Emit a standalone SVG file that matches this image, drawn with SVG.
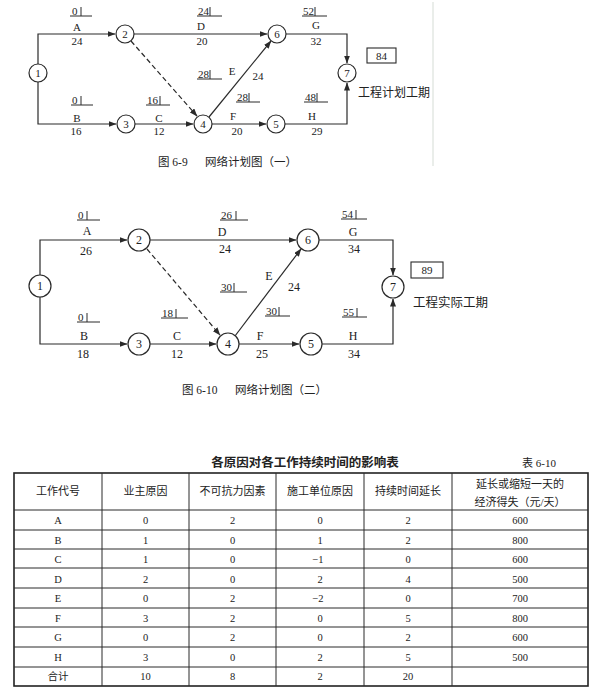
<svg xmlns="http://www.w3.org/2000/svg" width="598" height="693" viewBox="0 0 598 693">
<style>
.bg{fill:#ffffff}
.ln{fill:none;stroke:#2a2a2a;stroke-width:1.2}
.dash{fill:none;stroke:#2a2a2a;stroke-width:1.2;stroke-dasharray:5,3}
.nd{fill:#ffffff;stroke:#2a2a2a;stroke-width:1.2}
.t{font-family:"Liberation Serif","Times New Roman",serif;fill:#222;text-anchor:middle}
.s1{font-size:11px}
.s2{font-size:12px}
.lt{font-family:"Liberation Serif","Times New Roman",serif;fill:#222;font-size:11px}
.cn{font-family:"Liberation Serif","Noto Sans CJK SC",sans-serif;fill:#222}
.mk{fill:none;stroke:#2a2a2a;stroke-width:1}
.tb{fill:none;stroke:#2a2a2a;stroke-width:1}
.tbo{fill:none;stroke:#222;stroke-width:1.6}
.tc{font-family:"Liberation Serif","Noto Sans CJK SC",serif;fill:#222;font-size:10.5px;text-anchor:middle}
.th{font-family:"Liberation Serif","Noto Sans CJK SC",serif;fill:#222;font-size:11px;text-anchor:middle}
</style>
<defs>
<marker id="ar" markerWidth="8" markerHeight="6" refX="7.5" refY="3" orient="auto" markerUnits="userSpaceOnUse">
<path d="M0,0 L8,3 L0,6 Z" fill="#2a2a2a"/>
</marker>
</defs>
<rect class="bg" x="0" y="0" width="598" height="693"/>
<line x1="433" y1="2" x2="433" y2="166" stroke="#d5dcd5" stroke-width="1"/>

<!-- Diagram 1 connectors -->
<g id="connectors1">
<path class="ln" d="M38,64 V34 H115" marker-end="url(#ar)"/>
<path class="ln" d="M38,82 V124 H116" marker-end="url(#ar)"/>
<path class="ln" d="M134,34 H267" marker-end="url(#ar)"/>
<path class="dash" d="M131,41 L197,116" marker-end="url(#ar)"/>
<path class="ln" d="M135,124 H193" marker-end="url(#ar)"/>
<path class="ln" d="M209,117 L271,41" marker-end="url(#ar)"/>
<path class="ln" d="M212,124 H266" marker-end="url(#ar)"/>
<path class="ln" d="M286,34 H347 V63" marker-end="url(#ar)"/>
<path class="ln" d="M285,124 H347 V83" marker-end="url(#ar)"/>
</g>
<g id="d1-n1"><circle class="nd" cx="38" cy="73" r="9"/><text class="t s1" x="38" y="77">1</text></g>
<g id="d1-n2"><circle class="nd" cx="125" cy="34" r="9"/><text class="t s1" x="125" y="38">2</text></g>
<g id="d1-n3"><circle class="nd" cx="126" cy="124" r="9"/><text class="t s1" x="126" y="128">3</text></g>
<g id="d1-n4"><circle class="nd" cx="203" cy="124" r="9"/><text class="t s1" x="203" y="128">4</text></g>
<g id="d1-n5"><circle class="nd" cx="276" cy="124" r="9"/><text class="t s1" x="276" y="128">5</text></g>
<g id="d1-n6"><circle class="nd" cx="277" cy="34" r="9"/><text class="t s1" x="277" y="38">6</text></g>
<g id="d1-n7"><circle class="nd" cx="347" cy="73" r="9"/><text class="t s1" x="347" y="77">7</text></g>

<g id="d1-labels">
<text class="lt" x="72" y="15">0</text><path class="mk" d="M81,7 V16 M70,16 H92"/>
<text class="t s1" x="77" y="31">A</text><text class="t s1" x="77" y="45">24</text>
<text class="lt" x="72" y="104">0</text><path class="mk" d="M81,96 V105 M71,105 H93"/>
<text class="t s1" x="77" y="122">B</text><text class="t s1" x="76" y="135">16</text>
<text class="lt" x="147" y="104">16</text><path class="mk" d="M160,96 V105 M146,105 H170"/>
<text class="t s1" x="159" y="122">C</text><text class="t s1" x="159" y="135">12</text>
<text class="lt" x="198" y="15">24</text><path class="mk" d="M210,7 V16 M197,16 H222"/>
<text class="t s1" x="201" y="30">D</text><text class="t s1" x="202" y="45">20</text>
<text class="lt" x="198" y="78">28</text><path class="mk" d="M210,70 V79 M197,79 H222"/>
<text class="t s1" x="232" y="75">E</text><text class="t s1" x="258" y="80">24</text>
<text class="lt" x="237" y="101">28</text><path class="mk" d="M249,93 V102 M236,102 H260"/>
<text class="t s1" x="233" y="120">F</text><text class="t s1" x="237" y="135">20</text>
<text class="lt" x="303" y="15">52</text><path class="mk" d="M315,7 V16 M302,16 H327"/>
<text class="t s1" x="316" y="29">G</text><text class="t s1" x="316" y="45">32</text>
<text class="lt" x="305" y="101">48</text><path class="mk" d="M317,93 V102 M304,102 H328"/>
<text class="t s1" x="312" y="120">H</text><text class="t s1" x="317" y="135">29</text>
<rect x="367" y="48" width="29" height="15" fill="none" stroke="#2a2a2a" stroke-width="1.1"/>
<text class="t s1" x="381.5" y="60">84</text>
<text class="cn" x="358" y="97" font-size="12">工程计划工期</text>
<text class="cn" x="158" y="166" font-size="11.5">图 6-9</text>
<text class="cn" x="205" y="166" font-size="11.5">网络计划图（一）</text>
</g>

<!-- Diagram 2 connectors -->
<g id="connectors2">
<path class="ln" d="M40,275 V240 H127" marker-end="url(#ar)"/>
<path class="ln" d="M40,297 V344 H127" marker-end="url(#ar)"/>
<path class="ln" d="M150,240 H296" marker-end="url(#ar)"/>
<path class="dash" d="M147,249 L220,335" marker-end="url(#ar)"/>
<path class="ln" d="M150,344 H216" marker-end="url(#ar)"/>
<path class="ln" d="M235,336 L301,249" marker-end="url(#ar)"/>
<path class="ln" d="M239,344 H299" marker-end="url(#ar)"/>
<path class="ln" d="M319,240 H393 V275" marker-end="url(#ar)"/>
<path class="ln" d="M322,344 H393 V299" marker-end="url(#ar)"/>
</g>
<g id="d2-n1"><circle class="nd" cx="40" cy="286" r="11"/><text class="t s2" x="40" y="290">1</text></g>
<g id="d2-n2"><circle class="nd" cx="139" cy="240" r="11"/><text class="t s2" x="139" y="244">2</text></g>
<g id="d2-n3"><circle class="nd" cx="139" cy="344" r="11"/><text class="t s2" x="139" y="348">3</text></g>
<g id="d2-n4"><circle class="nd" cx="228" cy="344" r="11"/><text class="t s2" x="228" y="348">4</text></g>
<g id="d2-n5"><circle class="nd" cx="311" cy="344" r="11"/><text class="t s2" x="311" y="348">5</text></g>
<g id="d2-n6"><circle class="nd" cx="308" cy="240" r="11"/><text class="t s2" x="308" y="244">6</text></g>
<g id="d2-n7"><circle class="nd" cx="393" cy="287" r="11"/><text class="t s2" x="393" y="291">7</text></g>

<g id="d2-labels">
<text class="lt" x="78" y="219">0</text><path class="mk" d="M87,211 V220 M77,220 H100"/>
<text class="t s2" x="87" y="235">A</text><text class="t s2" x="86" y="255">26</text>
<text class="lt" x="78" y="321">0</text><path class="mk" d="M87,313 V322 M77,322 H100"/>
<text class="t s2" x="84" y="340">B</text><text class="t s2" x="83" y="358">18</text>
<text class="lt" x="162" y="317">18</text><path class="mk" d="M176,309 V318 M161,318 H188"/>
<text class="t s2" x="177" y="340">C</text><text class="t s2" x="177" y="358">12</text>
<text class="lt" x="221" y="219">26</text><path class="mk" d="M236,211 V220 M220,220 H248"/>
<text class="t s2" x="222" y="236">D</text><text class="t s2" x="225" y="253">24</text>
<text class="lt" x="221" y="291">30</text><path class="mk" d="M234,283 V292 M220,292 H247"/>
<text class="t s2" x="269" y="280">E</text><text class="t s2" x="294" y="291">24</text>
<text class="lt" x="266" y="315">30</text><path class="mk" d="M279,307 V316 M265,316 H290"/>
<text class="t s2" x="260" y="340">F</text><text class="t s2" x="262" y="358">25</text>
<text class="lt" x="342" y="218">54</text><path class="mk" d="M356,210 V219 M341,219 H367"/>
<text class="t s2" x="353" y="236">G</text><text class="t s2" x="354" y="253">34</text>
<text class="lt" x="343" y="316">55</text><path class="mk" d="M357,308 V317 M342,317 H367"/>
<text class="t s2" x="353" y="340">H</text><text class="t s2" x="354" y="358">34</text>
<rect x="411" y="262" width="32" height="16" fill="none" stroke="#2a2a2a" stroke-width="1.1"/>
<text class="t s1" x="427" y="274">89</text>
<text class="cn" x="413" y="307" font-size="12.5">工程实际工期</text>
<text class="cn" x="182" y="394" font-size="11.5">图 6-10</text>
<text class="cn" x="235" y="394" font-size="11.5">网络计划图（二）</text>
</g>

<!-- Table -->
<g id="table">
<text class="cn" x="305" y="467" font-size="12.5" font-weight="bold" text-anchor="middle">各原因对各工作持续时间的影响表</text>
<text class="cn" x="522" y="467" font-size="11">表 6-10</text>
<rect class="tbo" x="14" y="473" width="574" height="213"/>
<path class="tb" d="M102,473 V686 M189,473 V686 M276,473 V686 M364,473 V686 M452,473 V686"/>
<path class="tb" d="M14,510 H588 M14,530 H588 M14,549 H588 M14,568 H588 M14,588 H588 M14,608 H588 M14,627 H588 M14,647 H588 M14,667 H588"/>
<text class="th" x="58" y="495">工作代号</text>
<text class="th" x="145.5" y="495">业主原因</text>
<text class="th" x="232.5" y="495">不可抗力因素</text>
<text class="th" x="320" y="495">施工单位原因</text>
<text class="th" x="408" y="495">持续时间延长</text>
<text class="th" x="520" y="488">延长或缩短一天的</text>
<text class="th" x="520" y="506">经济得失（元/天）</text>

<text class="tc" x="58" y="524">A</text><text class="tc" x="145.5" y="524">0</text><text class="tc" x="232.5" y="524">2</text><text class="tc" x="320" y="524">0</text><text class="tc" x="408" y="524">2</text><text class="tc" x="520" y="524">600</text>
<text class="tc" x="58" y="543.5">B</text><text class="tc" x="145.5" y="543.5">1</text><text class="tc" x="232.5" y="543.5">0</text><text class="tc" x="320" y="543.5">1</text><text class="tc" x="408" y="543.5">2</text><text class="tc" x="520" y="543.5">800</text>
<text class="tc" x="58" y="563">C</text><text class="tc" x="145.5" y="563">1</text><text class="tc" x="232.5" y="563">0</text><text class="tc" x="318" y="563">−1</text><text class="tc" x="408" y="563">0</text><text class="tc" x="520" y="563">600</text>
<text class="tc" x="58" y="582.5">D</text><text class="tc" x="145.5" y="582.5">2</text><text class="tc" x="232.5" y="582.5">0</text><text class="tc" x="320" y="582.5">2</text><text class="tc" x="408" y="582.5">4</text><text class="tc" x="520" y="582.5">500</text>
<text class="tc" x="58" y="602">E</text><text class="tc" x="145.5" y="602">0</text><text class="tc" x="232.5" y="602">2</text><text class="tc" x="318" y="602">−2</text><text class="tc" x="408" y="602">0</text><text class="tc" x="520" y="602">700</text>
<text class="tc" x="58" y="621.5">F</text><text class="tc" x="145.5" y="621.5">3</text><text class="tc" x="232.5" y="621.5">2</text><text class="tc" x="320" y="621.5">0</text><text class="tc" x="408" y="621.5">5</text><text class="tc" x="520" y="621.5">800</text>
<text class="tc" x="58" y="641">G</text><text class="tc" x="145.5" y="641">0</text><text class="tc" x="232.5" y="641">2</text><text class="tc" x="320" y="641">0</text><text class="tc" x="408" y="641">2</text><text class="tc" x="520" y="641">600</text>
<text class="tc" x="58" y="660.5">H</text><text class="tc" x="145.5" y="660.5">3</text><text class="tc" x="232.5" y="660.5">0</text><text class="tc" x="320" y="660.5">2</text><text class="tc" x="408" y="660.5">5</text><text class="tc" x="520" y="660.5">500</text>
<text class="tc" x="58" y="680">合计</text><text class="tc" x="145.5" y="680">10</text><text class="tc" x="232.5" y="680">8</text><text class="tc" x="320" y="680">2</text><text class="tc" x="408" y="680">20</text>
</g>
</svg>
